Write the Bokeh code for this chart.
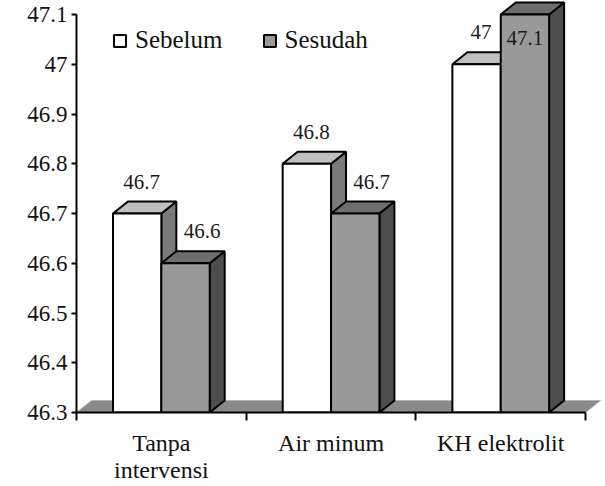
import numpy as np
from bokeh.plotting import figure
from bokeh.models import FixedTicker, Legend, LegendItem, Range1d
from bokeh.embed import file_html
from bokeh.resources import INLINE
from bokeh.core.properties import value

# ---- data ----
categories = ["Tanpa\nintervensi", "Air minum", "KH elektrolit"]
series_names = ["Sebelum", "Sesudah"]
sebelum = [46.7, 46.8, 47.0]
sesudah = [46.6, 46.7, 47.1]
sebelum_labels = ["46.7", "46.8", "47"]
sesudah_labels = ["46.6", "46.7", "47.1"]
y_ticks = [46.3, 46.4, 46.5, 46.6, 46.7, 46.8, 46.9, 47.0, 47.1]
y_tick_labels = ["46.3", "46.4", "46.5", "46.6", "46.7", "46.8", "46.9", "47", "47.1"]

Y_MIN, Y_MAX = 46.3, 47.1

# ---- geometry (screen scale) ----
FRAME_W, FRAME_H = 529, 412
PX_PER_X = 169.7
PX_PER_Y = 497.5
DX = 15 / PX_PER_X      # 3D depth, x
DY = 12 / PX_PER_Y      # 3D depth, y
BAR_W = 0.285
OFFS = [0.215, 0.5]

FONT = "Liberation Serif"

p = figure(frame_width=FRAME_W, frame_height=FRAME_H,
           x_range=Range1d(0, FRAME_W / PX_PER_X),
           y_range=Range1d(Y_MIN, Y_MIN + FRAME_H / PX_PER_Y),
           min_border_left=76, min_border_right=0, min_border_top=0, min_border_bottom=74,
           output_backend="svg", toolbar_location=None)
p.outline_line_color = None
p.xgrid.visible = False
p.ygrid.visible = False
p.background_fill_color = "white"

n = len(categories)
# floor
p.patch([0, DX, n + DX, n], [Y_MIN, Y_MIN + DY, Y_MIN + DY, Y_MIN],
        fill_color="#8a8a8a", line_color="#b5b5b5", line_width=1)

front_colors = ["#ffffff", "#999999"]
top_colors = ["#c0c0c0", "#6e6e6e"]
side_colors = ["#7a7a7a", "#4d4d4d"]

legend_items = []
for s, (vals, name) in enumerate(zip([sebelum, sesudah], series_names)):
    vals = np.array(vals)
    left = np.arange(n) + OFFS[s]
    right = left + BAR_W
    side_xs = [[r, r + DX, r + DX, r] for r in right]
    side_ys = [[v, v + DY, Y_MIN + DY, Y_MIN] for v in vals]
    top_xs = [[l, l + DX, r + DX, r] for l, r in zip(left, right)]
    top_ys = [[v, v + DY, v + DY, v] for v in vals]
    p.patches(side_xs, side_ys, fill_color=side_colors[s], line_color="black", line_width=2)
    p.patches(top_xs, top_ys, fill_color=top_colors[s], line_color="black", line_width=2)
    fr = p.quad(left=left, right=right, bottom=Y_MIN, top=vals,
                fill_color=front_colors[s], line_color="black", line_width=2)
    legend_items.append(LegendItem(label=name, renderers=[fr]))

# data labels
for s, (vals, labs) in enumerate(zip([sebelum, sesudah], [sebelum_labels, sesudah_labels])):
    vals = np.array(vals)
    centers = np.arange(n) + OFFS[s] + BAR_W / 2
    inside = vals >= Y_MAX
    lx = np.where(inside, centers, centers + DX * (0.3 + 0.8 * s))
    ly = np.where(inside, vals - 23 / PX_PER_Y, vals + 32 / PX_PER_Y)
    p.text(x=lx, y=ly, text=labs, text_align="center", text_baseline="middle",
           text_font=value(FONT), text_font_size="21px", text_color="#1a1a1a")

# x axis
xa = p.xaxis[0]
xa.ticker = FixedTicker(ticks=[i + 0.5 for i in range(n)], minor_ticks=list(range(n + 1)))
xa.major_label_overrides = {i + 0.5: c for i, c in enumerate(categories)}
xa.bounds = (0, n)
xa.major_tick_out = 0
xa.major_tick_in = 0
xa.minor_tick_out = 8
xa.minor_tick_in = 0
xa.minor_tick_line_width = 2
xa.minor_tick_line_color = "black"
xa.axis_line_width = 2
xa.axis_line_color = "black"
xa.major_label_text_font = FONT
xa.major_label_text_font_size = "24px"
xa.major_label_text_line_height = 1.05
xa.major_label_text_color = "#111111"
xa.major_label_standoff = 9

# y axis
ya = p.yaxis[0]
ya.ticker = FixedTicker(ticks=y_ticks, minor_ticks=[])
ya.major_label_overrides = {t: l for t, l in zip(y_ticks, y_tick_labels)}
ya.bounds = (Y_MIN, Y_MAX)
ya.major_tick_out = 5
ya.major_tick_in = 0
ya.major_tick_line_width = 2
ya.major_tick_line_color = "black"
ya.axis_line_width = 2
ya.axis_line_color = "black"
ya.major_label_text_font = FONT
ya.major_label_text_font_size = "23px"
ya.major_label_text_color = "#111111"
ya.major_label_standoff = 4

legend = Legend(items=legend_items, orientation="horizontal", location=(36, 358),
                label_text_font=FONT, label_text_font_size="25px", label_text_color="#111111",
                glyph_width=15, glyph_height=15, label_standoff=8, spacing=39,
                padding=0, margin=0, border_line_color=None, background_fill_alpha=0)
p.add_layout(legend, "center")

open("out.html", "w").write(file_html(p, INLINE))
